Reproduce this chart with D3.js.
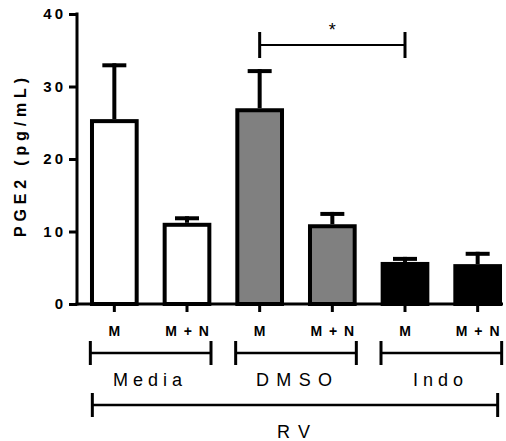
<!DOCTYPE html>
<html>
<head>
<script src="https://d3js.org/d3.v7.min.js"></script>
<style>
  body { margin: 0; background: #fff; }
  text { font-family: "Liberation Sans", Arial, sans-serif; }
</style>
</head>
<body>
<div id="chart"></div>
<script>
// data
var conditions = ["M", "M + N", "M", "M + N", "M", "M + N"];
var means = [25.5, 11.2, 27.0, 11.0, 5.8, 5.5];
var sem = [7.7, 0.9, 5.4, 1.7, 0.7, 1.7];
var fills = ["#ffffff", "#ffffff", "#808080", "#808080", "#000000", "#000000"];
var groups = ["Media", "DMSO", "Indo"];
var yTicks = [0, 10, 20, 30, 40];

var width = 506, height = 441;

var svg = d3.select("#chart").append("svg")
  .attr("width", width)
  .attr("height", height);

var ids = d3.range(conditions.length);

var x = d3.scaleBand()
  .domain(ids)
  .range([78, 514])
  .paddingInner(0.33)
  .paddingOuter(0.165);

var y = d3.scaleLinear()
  .domain([0, 40])
  .range([304, 14]);

var cx = function(i) { return x(i) + x.bandwidth() / 2; };

// bars
svg.selectAll(".bar")
  .data(ids)
  .enter().append("rect")
  .attr("x", function(i) { return x(i) + 2; })
  .attr("y", function(i) { return y(means[i]) + 2; })
  .attr("width", x.bandwidth() - 4)
  .attr("height", function(i) { return y(0) - y(means[i]) - 2; })
  .attr("fill", function(i) { return fills[i]; })
  .attr("stroke", "#000")
  .attr("stroke-width", 4);

// error bars (upper only)
svg.selectAll(".err")
  .data(ids)
  .enter().append("line")
  .attr("x1", cx).attr("x2", cx)
  .attr("y1", function(i) { return y(means[i]); })
  .attr("y2", function(i) { return y(means[i] + sem[i]); })
  .attr("stroke", "#000").attr("stroke-width", 4);

svg.selectAll(".cap")
  .data(ids)
  .enter().append("line")
  .attr("x1", function(i) { return cx(i) - 12; })
  .attr("x2", function(i) { return cx(i) + 12; })
  .attr("y1", function(i) { return y(means[i] + sem[i]) + 2; })
  .attr("y2", function(i) { return y(means[i] + sem[i]) + 2; })
  .attr("stroke", "#000").attr("stroke-width", 4);

// y axis
var yAxis = svg.append("g")
  .attr("transform", "translate(77,0)")
  .call(d3.axisLeft(y).tickValues(yTicks).tickSize(8).tickPadding(6));
yAxis.select(".domain").attr("stroke-width", 3).attr("d", "M0," + (y(40) - 1.5) + "V" + (y(0) + 1.5));
yAxis.selectAll(".tick line").attr("stroke-width", 3);
yAxis.selectAll(".tick text")
  .style("font-size", "15px").style("font-weight", "bold")
  .style("letter-spacing", "3px").attr("dx", 3)
  .style("font-family", "Liberation Sans, Arial, sans-serif");

// x axis
var xAxis = svg.append("g")
  .attr("transform", "translate(0," + y(0) + ")")
  .call(d3.axisBottom(x).tickSize(8).tickFormat(function(i) { return conditions[i]; }).tickPadding(12));
xAxis.select(".domain").attr("stroke-width", 3).attr("d", "M75.5,0H503");
xAxis.selectAll(".tick line").attr("stroke-width", 3);
xAxis.selectAll(".tick text")
  .style("font-size", "14px").style("font-weight", "bold")
  .style("letter-spacing", "1.5px").attr("dx", 0.75)
  .style("font-family", "Liberation Sans, Arial, sans-serif")
  .attr("y", 31.5).attr("dy", 0);

// bracket helper
function bracket(x1, x2, yy, h, lw) {
  svg.append("line").attr("x1", x1).attr("x2", x2).attr("y1", yy).attr("y2", yy)
    .attr("stroke", "#000").attr("stroke-width", lw);
  [x1, x2].forEach(function(xx) {
    svg.append("line").attr("x1", xx).attr("x2", xx)
      .attr("y1", yy - h).attr("y2", yy + h)
      .attr("stroke", "#000").attr("stroke-width", 3);
  });
}

// group label widths as drawn in the figure
var groupLen = [69, 76, 50];
var groupMid = [147.5, 294, 438];

groups.forEach(function(g, k) {
  var a = cx(2 * k) - 24, b = cx(2 * k + 1) + 24;
  bracket(a, b, 353, 12, 2.5);
  svg.append("text")
    .attr("x", groupMid[k]).attr("y", 385.5)
    .attr("text-anchor", "middle")
    .attr("font-size", 18)
    .attr("textLength", groupLen[k]).attr("lengthAdjust", "spacing")
    .text(g);
});

// RV bracket
bracket(cx(0) - 22, cx(5) + 20, 405, 12, 2.5);
svg.append("text")
  .attr("x", 293.5).attr("y", 437.5)
  .attr("text-anchor", "middle")
  .attr("font-size", 18)
  .attr("textLength", 33).attr("lengthAdjust", "spacing")
  .text("RV");

// significance
bracket(cx(2), cx(4), 45, 13, 2);
svg.append("text")
  .attr("x", (cx(2) + cx(4)) / 2).attr("y", 36)
  .attr("text-anchor", "middle")
  .attr("font-size", 18)
  .text("*");

// y title
svg.append("text")
  .attr("transform", "translate(26,157.5) rotate(-90)")
  .attr("text-anchor", "middle")
  .attr("font-size", 16).attr("font-weight", "bold")
  .attr("textLength", 159).attr("lengthAdjust", "spacing")
  .text("PGE2 (pg/mL)");
</script>
</body>
</html>
